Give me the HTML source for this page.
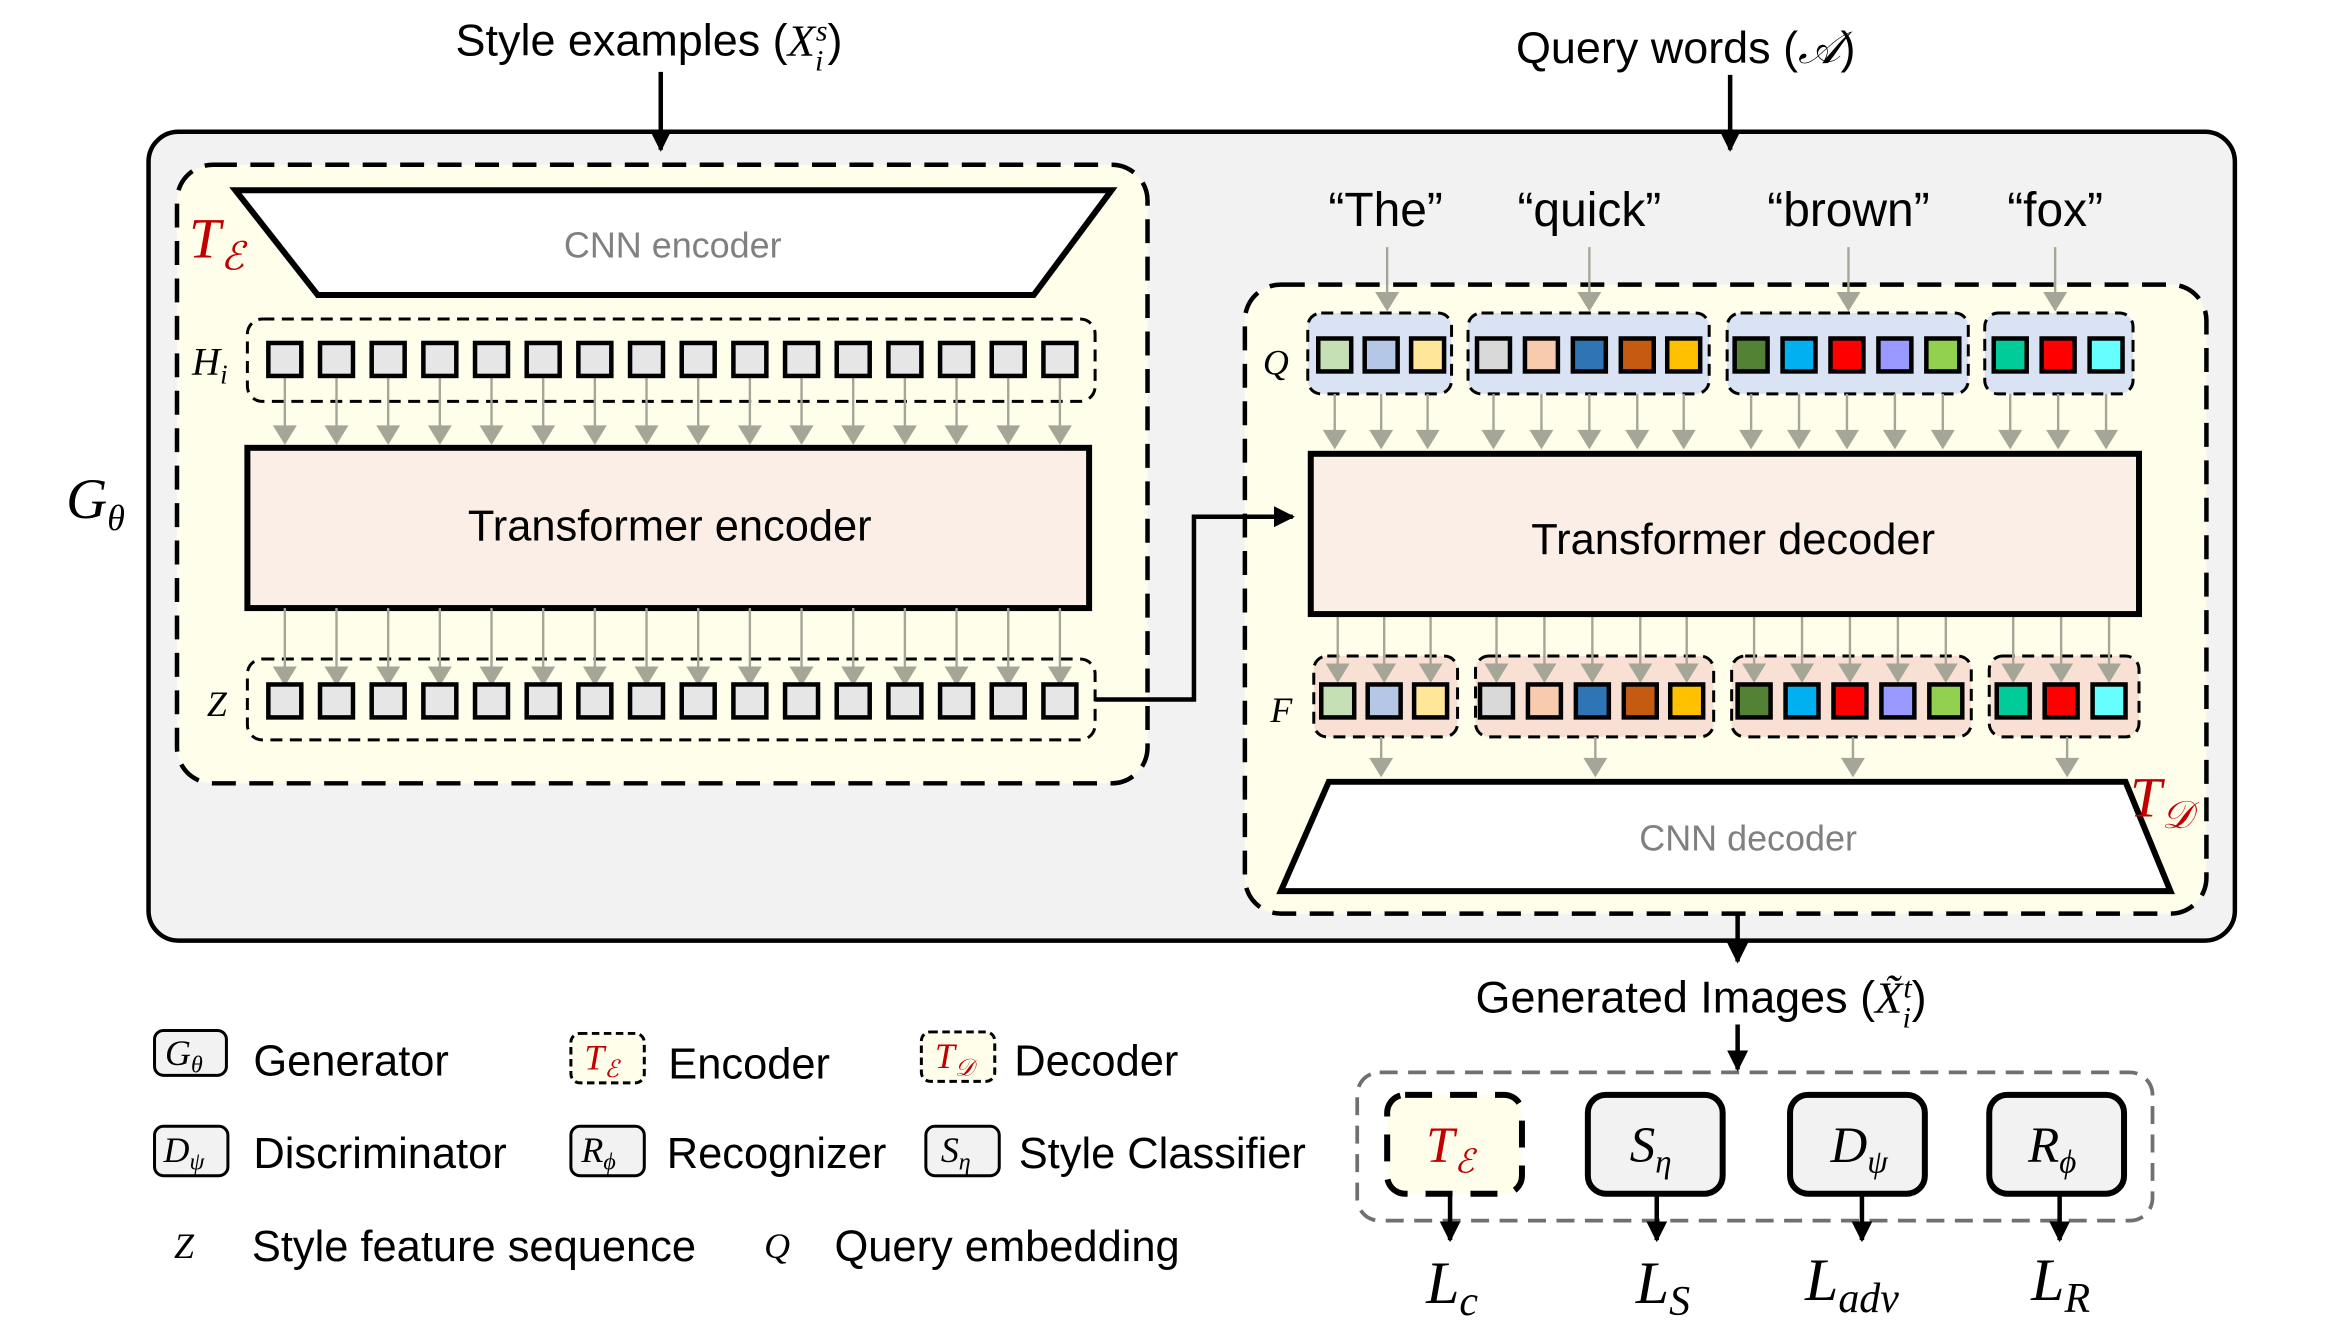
<!DOCTYPE html>
<html><head><meta charset="utf-8"><style>
html,body{margin:0;padding:0;background:#fff;}
svg{display:block;}
text{font-family:"Liberation Sans",sans-serif;}
.m{font-family:"Liberation Serif",serif;font-style:italic;}
</style></head><body>
<svg id="s" width="2325" height="1321" viewBox="0 0 1552 882" xmlns="http://www.w3.org/2000/svg">
<defs>
<marker id="abk" viewBox="0 0 10 10" markerWidth="14" markerHeight="14" refX="9" refY="5" orient="auto" markerUnits="userSpaceOnUse"><path d="M0,0 L10,5 L0,10Z" fill="#000"/></marker>
</defs>
<rect width="1552" height="882" fill="#fff"/>
<!-- titles -->
<text x="304" y="37" font-size="30">Style examples (<tspan class="m">X</tspan><tspan class="m" font-size="20" dy="10">i</tspan><tspan class="m" font-size="20" dy="-20" dx="-5">s</tspan><tspan dy="10">)</tspan></text>
<text x="1012" y="42" font-size="30">Query words (<tspan class="m">𝒜</tspan>)</text>
<!-- outer -->
<rect x="99" y="88" width="1393" height="540" rx="20" fill="#f2f2f2" stroke="#000" stroke-width="3"/>
<text x="44" y="346" font-size="38" class="m">G<tspan font-size="24" dy="8">θ</tspan></text>
<!-- encoder -->
<rect x="118" y="110" width="648" height="413" rx="24" fill="#fefeea" stroke="#000" stroke-width="3" stroke-dasharray="16,9"/>
<polygon points="157,127 742,127 690,197 212,197" fill="#fff" stroke="#000" stroke-width="4"/>
<text x="449" y="172" font-size="24" fill="#808080" text-anchor="middle">CNN encoder</text>
<text x="126" y="172" font-size="38" class="m" fill="#c00000">T<tspan font-size="26" dy="8">ℰ</tspan></text>
<rect x="165" y="213" width="566" height="55" rx="10" fill="none" stroke="#000" stroke-width="2" stroke-dasharray="8,5"/>
<text x="128" y="250" font-size="26" class="m">H<tspan font-size="18" dy="6">i</tspan></text>
<rect x="165" y="299" width="562" height="107" fill="#fbeee6" stroke="#000" stroke-width="4"/>
<text x="447" y="361" font-size="29" text-anchor="middle">Transformer encoder</text>
<rect x="165" y="440" width="566" height="54" rx="10" fill="none" stroke="#000" stroke-width="2" stroke-dasharray="8,5"/>
<text x="138" y="478" font-size="24" class="m">Z</text>
<g id="enc"></g>
<!-- decoder -->
<rect x="831" y="190" width="642" height="420" rx="24" fill="#fefeea" stroke="#000" stroke-width="3" stroke-dasharray="16,9"/>
<g font-size="32" text-anchor="middle">
<text x="925" y="151">“The”</text><text x="1061" y="151">“quick”</text><text x="1234" y="151">“brown”</text><text x="1372" y="151">“fox”</text>
</g>
<g id="dec"></g>
<rect x="875" y="303" width="553" height="107" fill="#fbeee6" stroke="#000" stroke-width="4"/>
<text x="1157" y="370" font-size="29" text-anchor="middle">Transformer decoder</text>
<text x="843" y="250" font-size="24" class="m">Q</text>
<text x="848" y="482" font-size="24" class="m">F</text>
<polygon points="887,522 1419,522 1449,595 855,595" fill="#fff" stroke="#000" stroke-width="4"/>
<text x="1167" y="568" font-size="24" fill="#808080" text-anchor="middle">CNN decoder</text>
<text x="1422" y="545" font-size="38" class="m" fill="#c00000">T<tspan font-size="26" dy="8">𝒟</tspan></text>
<!-- generated -->
<text x="985" y="676" font-size="30">Generated Images (<tspan class="m">X̃</tspan><tspan class="m" font-size="20" dy="10">i</tspan><tspan class="m" font-size="20" dy="-20" dx="-5">t</tspan><tspan dy="10">)</tspan></text>
<rect x="906" y="716" width="531" height="99" rx="15" fill="none" stroke="#707070" stroke-width="2.5" stroke-dasharray="12,7"/>
<rect x="926" y="731" width="90" height="66" rx="12" fill="#fefeea" stroke="#000" stroke-width="4" stroke-dasharray="18,12"/>
<text x="952" y="776" font-size="34" class="m" fill="#c00000">T<tspan font-size="22" dy="7">ℰ</tspan></text>
<rect x="1060" y="731" width="90" height="66" rx="12" fill="#f2f2f2" stroke="#000" stroke-width="4"/>
<text x="1088" y="776" font-size="34" class="m">S<tspan font-size="22" dy="7">η</tspan></text>
<rect x="1195" y="731" width="90" height="66" rx="12" fill="#f2f2f2" stroke="#000" stroke-width="4"/>
<text x="1222" y="776" font-size="34" class="m">D<tspan font-size="22" dy="7">ψ</tspan></text>
<rect x="1328" y="731" width="90" height="66" rx="12" fill="#f2f2f2" stroke="#000" stroke-width="4"/>
<text x="1354" y="776" font-size="34" class="m">R<tspan font-size="22" dy="7">ϕ</tspan></text>
<g font-size="40" class="m">
<text x="952" y="870" class="m">L<tspan font-size="28" dy="8">c</tspan></text>
<text x="1092" y="870" class="m">L<tspan font-size="28" dy="8">S</tspan></text>
<text x="1205" y="868" class="m">L<tspan font-size="28" dy="8">adv</tspan></text>
<text x="1356" y="868" class="m">L<tspan font-size="28" dy="8">R</tspan></text>
</g>
<!-- legend -->
<g font-size="29">
<rect x="103" y="688" width="48" height="30" rx="6" fill="#f2f2f2" stroke="#000" stroke-width="2"/>
<text x="110" y="711" font-size="24" class="m">G<tspan font-size="16" dy="5">θ</tspan></text>
<text x="169" y="718">Generator</text>
<rect x="381" y="690" width="49" height="33" rx="6" fill="#fefeea" stroke="#000" stroke-width="2" stroke-dasharray="5,3"/>
<text x="390" y="714" font-size="24" class="m" fill="#c00000">T<tspan font-size="16" dy="5">ℰ</tspan></text>
<text x="446" y="720">Encoder</text>
<rect x="615" y="689" width="49" height="33" rx="6" fill="#fefeea" stroke="#000" stroke-width="2" stroke-dasharray="5,3"/>
<text x="624" y="713" font-size="24" class="m" fill="#c00000">T<tspan font-size="16" dy="5">𝒟</tspan></text>
<text x="677" y="718">Decoder</text>
<rect x="103" y="752" width="49" height="33" rx="6" fill="#f2f2f2" stroke="#000" stroke-width="2"/>
<text x="109" y="776" font-size="24" class="m">D<tspan font-size="16" dy="5">ψ</tspan></text>
<text x="169" y="780">Discriminator</text>
<rect x="381" y="752" width="49" height="33" rx="6" fill="#f2f2f2" stroke="#000" stroke-width="2"/>
<text x="388" y="776" font-size="24" class="m">R<tspan font-size="16" dy="5">ϕ</tspan></text>
<text x="445" y="780">Recognizer</text>
<rect x="618" y="752" width="49" height="33" rx="6" fill="#f2f2f2" stroke="#000" stroke-width="2"/>
<text x="628" y="776" font-size="24" class="m">S<tspan font-size="16" dy="5">η</tspan></text>
<text x="680" y="780">Style Classifier</text>
<text x="116" y="840" font-size="24" class="m">Z</text>
<text x="168" y="842">Style feature sequence</text>
<text x="510" y="840" font-size="24" class="m">Q</text>
<text x="557" y="842">Query embedding</text>
</g>
<!-- black arrows on top -->
<g stroke="#000" stroke-width="3" fill="none">
<line x1="441" y1="48" x2="441" y2="100" marker-end="url(#abk)"/>
<line x1="1155" y1="50" x2="1155" y2="100" marker-end="url(#abk)"/>
<polyline points="731,467 797,467 797,345 863,345" marker-end="url(#abk)"/>
<line x1="1160" y1="610" x2="1160" y2="642" marker-end="url(#abk)"/>
<line x1="1160" y1="684" x2="1160" y2="714" marker-end="url(#abk)"/>
<line x1="968" y1="797" x2="968" y2="828" marker-end="url(#abk)"/>
<line x1="1106" y1="797" x2="1106" y2="828" marker-end="url(#abk)"/>
<line x1="1243" y1="797" x2="1243" y2="828" marker-end="url(#abk)"/>
<line x1="1375" y1="797" x2="1375" y2="828" marker-end="url(#abk)"/>
</g>
</svg>
<script>
var NS="http://www.w3.org/2000/svg";
function el(p,t,a){var e=document.createElementNS(NS,t);for(var k in a)e.setAttribute(k,a[k]);p.appendChild(e);return e;}
function garrow(p,x,y1,y2){el(p,"line",{x1:x,y1:y1,x2:x,y2:y2-12,stroke:"#a6a698","stroke-width":1.6});el(p,"polygon",{points:(x-8)+","+(y2-13)+" "+(x+8)+","+(y2-13)+" "+x+","+y2,fill:"#a6a698"});}
var enc=document.getElementById("enc");
for(var i=0;i<16;i++){var cx=190+i*34.5;
 garrow(enc,cx,252,297);
 garrow(enc,cx,406,458);
 el(enc,"rect",{x:cx-11,y:229,width:22,height:22,fill:"#e6e6e6",stroke:"#000","stroke-width":3});
 el(enc,"rect",{x:cx-11,y:457,width:22,height:22,fill:"#e6e6e6",stroke:"#000","stroke-width":3});
}
var dec=document.getElementById("dec");
var groups=[
 {q:[873,969],f:[877,973],xs:[891,922,953],c:["#c5e0b4","#b4c7e7","#ffe699"]},
 {q:[980,1141],f:[985,1144],xs:[997,1029,1061,1093,1124],c:["#d9d9d9","#f8cbad","#2e75b6","#c55a11","#ffc000"]},
 {q:[1153,1314],f:[1156,1316],xs:[1169,1201,1233,1265,1297],c:["#548235","#00b0f0","#ff0000","#9999ff","#92d050"]},
 {q:[1325,1424],f:[1328,1428],xs:[1342,1374,1406],c:["#00cc99","#ff0000","#66ffff"]}];
var wx=[926,1061,1234,1372], dx=[922,1065,1237,1380];
groups.forEach(function(g,k){
 el(dec,"rect",{x:g.q[0],y:209,width:g.q[1]-g.q[0],height:54,rx:9,fill:"#dae3f3",stroke:"#000","stroke-width":2,"stroke-dasharray":"8,5"});
 el(dec,"rect",{x:g.f[0],y:438,width:g.f[1]-g.f[0],height:54,rx:9,fill:"#f8e0d4",stroke:"#000","stroke-width":2,"stroke-dasharray":"8,5"});
 garrow(dec,wx[k],165,208);
 garrow(dec,dx[k],492,519);
 g.xs.forEach(function(x,j){
  garrow(dec,x,263,300);
  garrow(dec,x+2,410,456);
  el(dec,"rect",{x:x-11,y:226,width:22,height:22,fill:g.c[j],stroke:"#000","stroke-width":3});
  el(dec,"rect",{x:x-9,y:457,width:22,height:22,fill:g.c[j],stroke:"#000","stroke-width":3});
 });
});
</script>
</body></html>
